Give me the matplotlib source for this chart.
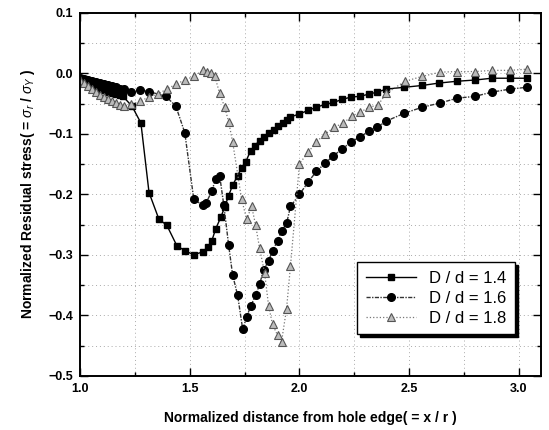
import matplotlib.pyplot as plt
from matplotlib.ticker import MultipleLocator

plt.rcParams['font.family'] = ['Liberation Sans', 'DejaVu Sans']
plt.rcParams['mathtext.fontset'] = 'custom'
plt.rcParams['mathtext.rm'] = 'Liberation Sans'
plt.rcParams['mathtext.it'] = 'Liberation Sans:italic'

# D/d = 1.4
x14 = [1.000, 1.018, 1.036, 1.055, 1.073, 1.091, 1.109, 1.127, 1.145, 1.164, 1.182, 1.195,
       1.236, 1.277, 1.314, 1.359, 1.395, 1.441, 1.477, 1.518, 1.559, 1.582, 1.600, 1.618,
       1.641, 1.659, 1.677, 1.695, 1.718, 1.736, 1.755, 1.777, 1.795, 1.818, 1.836, 1.859,
       1.882, 1.900, 1.923, 1.941, 1.959, 2.000, 2.041, 2.077, 2.118, 2.155, 2.195, 2.236,
       2.277, 2.318, 2.355, 2.395, 2.477, 2.559, 2.636, 2.718, 2.800, 2.877, 2.959, 3.036]
y14 = [-0.007, -0.010, -0.014, -0.018, -0.021, -0.025, -0.027, -0.030, -0.032, -0.034, -0.036, -0.038,
       -0.054, -0.082, -0.197, -0.241, -0.251, -0.285, -0.293, -0.300, -0.295, -0.287, -0.277, -0.257,
       -0.238, -0.221, -0.202, -0.185, -0.169, -0.156, -0.146, -0.128, -0.120, -0.111, -0.105, -0.098,
       -0.093, -0.087, -0.082, -0.077, -0.072, -0.067, -0.061, -0.056, -0.051, -0.048, -0.043, -0.039,
       -0.038, -0.034, -0.031, -0.026, -0.023, -0.020, -0.016, -0.013, -0.011, -0.008, -0.008, -0.008]

# D/d = 1.6
x16 = [1.000, 1.018, 1.036, 1.055, 1.073, 1.091, 1.109, 1.127, 1.145, 1.164, 1.182, 1.200,
       1.232, 1.273, 1.314, 1.391, 1.436, 1.477, 1.518, 1.559, 1.573, 1.600, 1.618, 1.636,
       1.655, 1.677, 1.695, 1.718, 1.741, 1.759, 1.777, 1.800, 1.818, 1.836, 1.859, 1.877,
       1.900, 1.918, 1.941, 1.959, 2.000, 2.041, 2.077, 2.118, 2.155, 2.195, 2.236, 2.277,
       2.318, 2.355, 2.395, 2.477, 2.559, 2.641, 2.718, 2.800, 2.877, 2.959, 3.036]
y16 = [-0.008, -0.010, -0.011, -0.013, -0.015, -0.016, -0.018, -0.020, -0.021, -0.023, -0.025, -0.026,
       -0.030, -0.028, -0.030, -0.038, -0.054, -0.098, -0.208, -0.218, -0.215, -0.195, -0.174, -0.169,
       -0.218, -0.284, -0.333, -0.367, -0.423, -0.403, -0.385, -0.367, -0.349, -0.325, -0.310, -0.293,
       -0.277, -0.261, -0.248, -0.220, -0.200, -0.179, -0.162, -0.148, -0.136, -0.125, -0.113, -0.105,
       -0.095, -0.089, -0.079, -0.066, -0.056, -0.049, -0.041, -0.038, -0.031, -0.026, -0.023]

# D/d = 1.8
x18 = [1.000, 1.018, 1.036, 1.055, 1.073, 1.091, 1.109, 1.127, 1.145, 1.164, 1.182, 1.200,
       1.232, 1.273, 1.314, 1.355, 1.395, 1.436, 1.477, 1.518, 1.559, 1.577, 1.595, 1.614,
       1.636, 1.659, 1.677, 1.695, 1.736, 1.759, 1.782, 1.800, 1.818, 1.841, 1.859, 1.877,
       1.900, 1.918, 1.941, 1.959, 2.000, 2.041, 2.077, 2.118, 2.159, 2.200, 2.241, 2.277,
       2.318, 2.359, 2.395, 2.482, 2.559, 2.641, 2.718, 2.800, 2.877, 2.959, 3.036]
y18 = [-0.011, -0.016, -0.021, -0.026, -0.031, -0.036, -0.039, -0.043, -0.046, -0.049, -0.052, -0.054,
       -0.051, -0.046, -0.039, -0.034, -0.026, -0.018, -0.011, -0.005, 0.005, 0.003, 0.000, -0.005,
       -0.033, -0.056, -0.080, -0.113, -0.208, -0.241, -0.220, -0.251, -0.289, -0.330, -0.384, -0.415,
       -0.433, -0.444, -0.389, -0.318, -0.149, -0.130, -0.113, -0.100, -0.089, -0.082, -0.070, -0.064,
       -0.056, -0.052, -0.033, -0.013, -0.005, 0.002, 0.003, 0.003, 0.005, 0.005, 0.007]

fig = plt.figure(figsize=(5.49, 4.30), dpi=100)
ax = fig.add_axes([0.146, 0.126, 0.839, 0.844])

ax.plot(x14, y14, color='black', lw=1.0, linestyle='-', marker='s', markersize=5,
        markerfacecolor='black', markeredgecolor='black', label='D / d = 1.4')
ax.plot(x16, y16, color='#333333', lw=1.0, linestyle=(0, (3, 1, 1, 1)), marker='o', markersize=5.5,
        markerfacecolor='black', markeredgecolor='black', label='D / d = 1.6')
ax.plot(x18, y18, color='#777777', lw=0.9, linestyle=':', marker='^', markersize=6,
        markerfacecolor='#bbbbbb', markeredgecolor='#555555', markeredgewidth=0.8,
        label='D / d = 1.8')

ax.set_xlim(1.0, 3.1)
ax.set_ylim(-0.5, 0.1)
ax.xaxis.set_major_locator(MultipleLocator(0.5))
ax.xaxis.set_minor_locator(MultipleLocator(0.25))
ax.yaxis.set_major_locator(MultipleLocator(0.1))
ax.yaxis.set_minor_locator(MultipleLocator(0.05))
ax.grid(which='both', linestyle=(0, (1, 3)), color='#aaaaaa', lw=0.7)
ax.tick_params(which='both', direction='in', top=True, right=True, width=1.0)
ax.tick_params(which='major', length=6, labelsize=9, pad=5)
ax.tick_params(which='minor', length=3)
for lab in ax.get_xticklabels() + ax.get_yticklabels():
    lab.set_fontweight('bold')
for s in ax.spines.values():
    s.set_linewidth(1.4)

ax.set_xlabel('Normalized distance from hole edge( = x / r )', fontsize=10, fontweight='bold', labelpad=12)
ax.set_ylabel(r'Normalized Residual stress( = $\sigma_{r}$ / $\sigma_{Y}$ )', fontsize=10,
              fontweight='bold', labelpad=8)

leg = ax.legend(loc='upper left', bbox_to_anchor=(0.584, 0.336), fontsize=12, handlelength=3.0,
                frameon=True, fancybox=False, edgecolor='black', borderpad=0.5, labelspacing=0.3,
                shadow={'color': 'black', 'alpha': 1.0})
leg.get_frame().set_linewidth(1.0)

plt.savefig('out.png', dpi=100)
